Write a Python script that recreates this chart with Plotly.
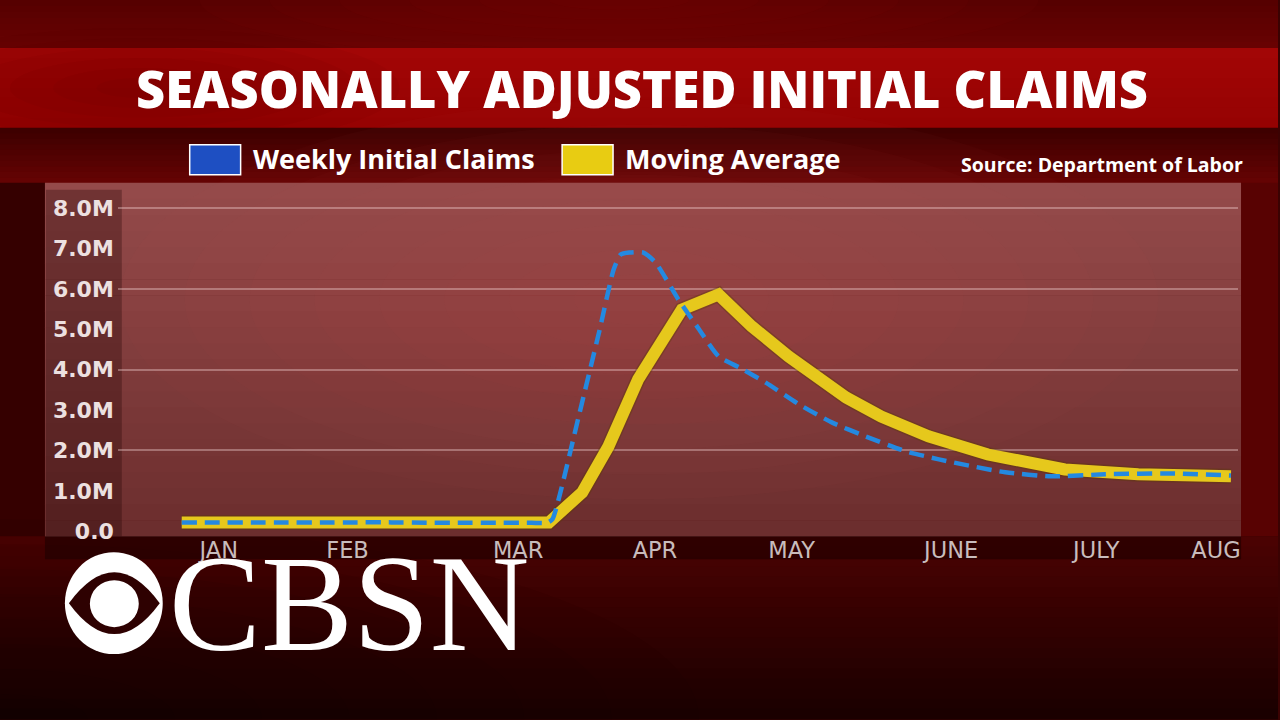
import plotly.graph_objects as go

# ---------------- data ----------------
# x is measured in weeks since the first plotted week (early January 2020)
weekly_x = [0, 1, 2, 3, 4, 5, 6, 7, 8, 9, 10, 10.45, 10.6, 10.8, 11.35, 11.95, 12.35,
            12.55, 12.8, 13.2, 13.55, 14.2, 14.8, 15.35, 15.95, 16.7, 17.65, 18.6,
            19.55, 20.7, 21.65, 22.6, 23.55, 24.85, 26.4, 28.3, 30.0]
weekly_claims_m = [0.22, 0.22, 0.22, 0.22, 0.22, 0.22, 0.22, 0.21, 0.21, 0.21, 0.21,
                   0.21, 0.3, 0.87, 2.84, 4.99, 6.48, 6.85, 6.9, 6.9, 6.65, 5.74, 4.99,
                   4.33, 4.05, 3.68, 3.14, 2.69, 2.35, 1.98, 1.78, 1.61, 1.46, 1.36,
                   1.41, 1.43, 1.38]

avg_x = [0, 1, 2, 3, 4, 5, 6, 7, 8, 9, 10, 10.5, 11.45, 12.2, 13.05, 13.85, 14.3,
         15.35, 16.3, 17.35, 18.2, 19.0, 20.0, 21.35, 23.05, 25.25, 27.35, 29.25, 30.0]
moving_avg_m = [0.22, 0.22, 0.22, 0.22, 0.22, 0.22, 0.22, 0.22, 0.22, 0.22, 0.22, 0.22,
                0.96, 2.10, 3.76, 4.82, 5.49, 5.86, 5.07, 4.33, 3.76, 3.31, 2.84, 2.35,
                1.90, 1.53, 1.41, 1.33, 1.36]

month_tick_pos = [1.06, 4.74, 9.62, 13.53, 17.44, 22.0, 26.15, 29.57]
month_labels = ["JAN", "FEB", "MAR", "APR", "MAY", "JUNE", "JULY", "AUG"]

y_tick_vals = [0, 1, 2, 3, 4, 5, 6, 7, 8]
y_tick_text = ["0.0", "1.0M", "2.0M", "3.0M", "4.0M", "5.0M", "6.0M", "7.0M", "8.0M"]
grid_vals = [2, 4, 6, 8]

title_text = "SEASONALLY ADJUSTED INITIAL CLAIMS"
legend_names = ["Weekly Initial Claims", "Moving Average"]
source_text = "Source: Department of Labor"

# ---------------- layout helpers ----------------
W = 1280
H = 720          # design height (positions below are given in this frame)
FIG_H = 732      # the capture squeezes the page slightly, so fill a bit more


def fx(px):
    return px / W


def fy(py):
    return 1 - py / H


def rect(x0, y0, x1, y1, color, layer="below", line=None):
    d = dict(type="rect", xref="paper", yref="paper",
             x0=fx(x0), x1=fx(x1), y0=fy(y1), y1=fy(y0),
             fillcolor=color, layer=layer, line=dict(width=0))
    if line:
        d["line"] = line
    return d


def ellipse(x0, y0, x1, y1, color, layer="below"):
    return dict(type="circle", xref="paper", yref="paper",
                x0=fx(x0), x1=fx(x1), y0=fy(y1), y1=fy(y0),
                fillcolor=color, layer=layer, line=dict(width=0))


def hexrgb(h):
    h = h.lstrip("#")
    return tuple(int(h[i:i + 2], 16) for i in (0, 2, 4))


def vgrad(x0, y0, x1, y1, c_top, c_bot, n=16):
    a, b = hexrgb(c_top), hexrgb(c_bot)
    out = []
    step = (y1 - y0) / n
    for i in range(n):
        t = i / (n - 1)
        c = tuple(round(a[k] + (b[k] - a[k]) * t) for k in range(3))
        out.append(rect(x0, y0 + i * step, x1, y0 + (i + 1) * step + 0.6,
                        "rgb(%d,%d,%d)" % c))
    return out


def soft_glow(cx, cy, rx, ry, rgb, alpha, n=8):
    out = []
    for i in range(n):
        s = 1 - i / n
        out.append(ellipse(cx - rx * s, cy - ry * s, cx + rx * s, cy + ry * s,
                           "rgba(%d,%d,%d,%.3f)" % (rgb + (alpha,))))
    return out


BLUE = "#2489e0"
YELLOW = "#e6c81c"

fig = go.Figure()
fig.add_trace(go.Scatter(
    x=avg_x, y=moving_avg_m, mode="lines", showlegend=False,
    line=dict(color="rgba(90,60,0,0.35)", width=15), hoverinfo="skip"))
fig.add_trace(go.Scatter(
    x=avg_x, y=moving_avg_m, mode="lines", name=legend_names[1],
    line=dict(color=YELLOW, width=12), hoverinfo="skip"))
fig.add_trace(go.Scatter(
    x=weekly_x, y=weekly_claims_m, mode="lines", name=legend_names[0],
    line=dict(color=BLUE, width=4.5, dash="15px,8px", shape="spline", smoothing=0.6),
    hoverinfo="skip"))
# invisible trace on the overlay axis (carries gridlines only)
fig.add_trace(go.Scatter(x=[avg_x[0]], y=[moving_avg_m[0]], yaxis="y2", mode="lines",
                         line=dict(width=0), showlegend=False, hoverinfo="skip"))

# x mapping: week 0 at px 182, 35.03 px per week; plot area px 118..1240
x_range = [(118 - 182) / 35.03, (1240 - 182) / 35.03]
# y mapping: 0 at py 532, 40.45 px per million; plot area py 190..532
y_range = [0, (532 - 190) / 40.45]
y_dom = [fy(532), fy(190)]

shapes = []
# top band
shapes += vgrad(0, 0, 1280, 48, "#560000", "#680202", n=8)
shapes += soft_glow(620, 0, 420, 60, (140, 10, 10), 0.07, n=6)
# title bar
shapes += vgrad(0, 48, 1280, 128, "#a20606", "#960202", n=8)
shapes += soft_glow(140, 88, 260, 60, (60, 0, 0), 0.04, n=6)
# band between title bar and panel
shapes += vgrad(0, 128, 1280, 183, "#3e0000", "#640303", n=10)
# sides of panel
shapes.append(rect(0, 183, 45, 537, "#350000"))
shapes.append(rect(1243, 183, 1280, 537, "#580202"))
# bottom area
shapes += vgrad(0, 537, 1280, 720, "#4a0202", "#1a0000", n=18)
shapes += soft_glow(0, 720, 700, 200, (10, 0, 0), 0.06, n=8)
# chart panel
shapes += vgrad(45, 183, 1243, 537, "#944a4a", "#6c2e2e", n=22)
shapes += soft_glow(640, 300, 520, 200, (185, 80, 80), 0.035, n=8)
shapes.append(rect(46, 190, 122, 537, "rgba(30,0,0,0.30)"))
shapes.append(rect(45, 537, 1243, 560, "rgba(25,0,0,0.55)"))
# legend swatches
shapes.append(rect(190, 145, 241, 175, "#1e4fc2", layer="above",
                   line=dict(color="#ffffff", width=1.5)))
shapes.append(rect(563, 145, 614, 175, "#e8cc12", layer="above",
                   line=dict(color="#ffffff", width=1.5)))
# CBS eye
shapes.append(ellipse(65, 553, 163, 655, "#ffffff", layer="above"))
shapes.append(dict(type="path", xref="paper", yref="paper", layer="above",
                   path=(f"M {fx(69)},{fy(604)} Q {fx(114.5)},{fy(542)} {fx(160)},{fy(604)} "
                         f"Q {fx(114.5)},{fy(666)} {fx(69)},{fy(604)} Z"),
                   fillcolor="#2e0101", line=dict(width=0)))
shapes.append(ellipse(90, 581, 139, 628, "#ffffff", layer="above"))

annotations = [
    dict(text=title_text, x=fx(643), y=fy(89), xref="paper", yref="paper",
         xanchor="center", yanchor="middle", showarrow=False,
         font=dict(family="Open Sans", size=50.5, color="#ffffff", weight=800)),
    dict(text=legend_names[0], x=fx(251), y=fy(159), xref="paper", yref="paper",
         xanchor="left", yanchor="middle", showarrow=False,
         font=dict(family="Open Sans", size=27, color="#ffffff", weight=700)),
    dict(text=legend_names[1], x=fx(624), y=fy(159), xref="paper", yref="paper",
         xanchor="left", yanchor="middle", showarrow=False,
         font=dict(family="Open Sans", size=27, color="#ffffff", weight=700)),
    dict(text=source_text, x=fx(1247), y=fy(165), xref="paper", yref="paper",
         xanchor="right", yanchor="middle", showarrow=False,
         font=dict(family="Open Sans", size=19.5, color="#ffffff", weight=700)),
    dict(text="CBSN", x=fx(167), y=fy(604), xref="paper", yref="paper",
         xanchor="left", yanchor="middle", showarrow=False,
         font=dict(family="Liberation Serif", size=138, color="#ffffff")),
]

fig.update_layout(
    width=W, height=FIG_H,
    margin=dict(l=0, r=0, t=0, b=0),
    paper_bgcolor="#3a0202",
    plot_bgcolor="rgba(0,0,0,0)",
    showlegend=False,
    shapes=shapes,
    annotations=annotations,
    xaxis=dict(domain=[fx(118), fx(1240)], range=x_range,
               tickmode="array", tickvals=month_tick_pos, ticktext=month_labels,
               showgrid=False, zeroline=False, showline=False, ticks="",
               ticklabelstandoff=3,
               tickfont=dict(family="DejaVu Sans", size=22.5, color="#c8bcbc")),
    yaxis=dict(domain=y_dom, range=y_range,
               tickmode="array", tickvals=y_tick_vals, ticktext=y_tick_text,
               showgrid=False, zeroline=False, showline=False, ticks="",
               ticklabelstandoff=3,
               tickfont=dict(family="DejaVu Sans", size=22, color="#ece0e0", weight=700)),
    yaxis2=dict(domain=y_dom, range=y_range, overlaying="y", side="left",
                tickmode="array", tickvals=grid_vals, showticklabels=False,
                showgrid=True, gridcolor="rgba(255,225,225,0.35)", gridwidth=2,
                zeroline=False, showline=False, ticks=""),
)

fig.write_html(
    "out.html",
    config={"displayModeBar": False},
    post_script=(
        "document.body.style.margin='0px';"
        "document.body.style.background='#1a0000';"
    ),
)
